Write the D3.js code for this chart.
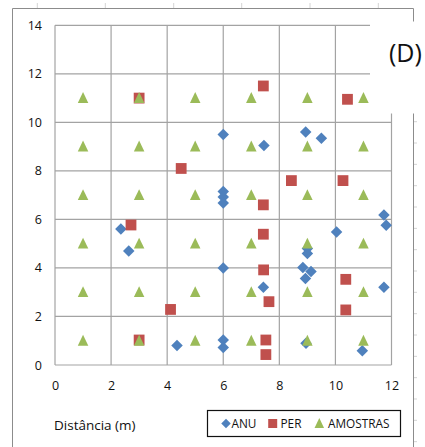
<!DOCTYPE html>
<html>
<head>
<meta charset="utf-8">
<script src="https://cdn.jsdelivr.net/npm/d3@7"></script>
<style>
  html, body { margin: 0; padding: 0; background: #fff; }
  svg { display: block; }
  text { font-family: "Open Sans", "Liberation Sans", sans-serif; fill: #111; }
</style>
</head>
<body>
<svg id="chart" width="425" height="447"></svg>
<script>
// Axis ticks
const xTicks = [0, 2, 4, 6, 8, 10, 12];
const yTicks = [0, 2, 4, 6, 8, 10, 12, 14];

// ANU points (distance x, distance y, in metres)
const anuX = [6.0, 7.45, 8.94, 9.5, 6.0, 6.0, 6.0, 2.35, 2.63, 4.35, 11.73, 11.81, 10.04, 9.0, 9.0, 6.0, 7.43, 8.84, 9.13, 8.93, 11.73, 6.0, 6.0, 8.95, 10.96];
const anuY = [9.5, 9.05, 9.6, 9.35, 7.15, 6.92, 6.68, 5.6, 4.7, 0.8, 6.18, 5.76, 5.48, 4.8, 4.6, 4.0, 3.2, 4.02, 3.85, 3.57, 3.2, 1.03, 0.72, 0.9, 0.59];

// PER points
const perX = [3.0, 4.5, 7.43, 10.43, 8.43, 10.27, 2.71, 4.12, 3.0, 7.43, 7.43, 7.44, 7.63, 10.37, 10.37, 7.52, 7.52];
const perY = [11.0, 8.1, 11.5, 10.95, 7.6, 7.6, 5.77, 2.29, 1.03, 6.6, 5.39, 3.92, 2.61, 3.53, 2.27, 1.03, 0.43];

// AMOSTRAS sampling grid
const amoX = [1, 3, 5, 7, 9, 11, 1, 3, 5, 7, 9, 11, 1, 3, 5, 7, 9, 11, 1, 3, 5, 7, 9, 11, 1, 3, 5, 7, 9, 11, 1, 3, 5, 7, 9, 11];
const amoY = [11, 11, 11, 11, 11, 11, 9, 9, 9, 9, 9, 9, 7, 7, 7, 7, 7, 7, 5, 5, 5, 5, 5, 5, 3, 3, 3, 3, 3, 3, 1, 1, 1, 1, 1, 1];

const seriesNames = ["ANU", "PER", "AMOSTRAS"];
const colors = { ANU: "#4f81bd", PER: "#c0504d", AMOSTRAS: "#9bbb59" };

const svg = d3.select("#chart");

const x = d3.scaleLinear().domain([0, 12]).range([55, 391.5]);
const y = d3.scaleLinear().domain([0, 14]).range([365, 25.3]);

// Faint ticks of a neighbouring chart peeking out at the edges
const edge = svg.append("g").attr("stroke", "#d4d4d4").attr("stroke-width", 1);
[37.3, 105.3, 173.7, 241.7, 310, 378.3].forEach(px => {
  edge.append("line").attr("x1", px).attr("x2", px).attr("y1", 3).attr("y2", 8);
});
d3.range(0, 16).forEach(i => {
  const py = 121.7 + i * 21.33;
  edge.append("line").attr("x1", 413).attr("x2", 417).attr("y1", py).attr("y2", py);
});
edge.append("line").attr("x1", 413).attr("x2", 417).attr("y1", 24).attr("y2", 24);

// Chart frame
const frame = svg.append("g").attr("stroke", "#8c8c8c").attr("stroke-width", 1).attr("fill", "none");
frame.append("path").attr("d", "M12.5,447 V8.5 H413.5 V447");

// Gridlines
const grid = svg.append("g").attr("stroke", "#a3a3a3").attr("stroke-width", 1.2);
yTicks.forEach(t => {
  grid.append("line").attr("x1", x(0)).attr("x2", x(12)).attr("y1", y(t)).attr("y2", y(t));
});
xTicks.forEach(t => {
  grid.append("line").attr("x1", x(t)).attr("x2", x(t)).attr("y1", y(14)).attr("y2", y(0));
});

// Axis tick labels (axes drawn without domain lines)
const yAxis = d3.axisLeft(y).tickValues(yTicks).tickSize(0).tickPadding(0).tickFormat(d3.format("d"));
svg.append("g").attr("transform", "translate(42,0)").call(yAxis)
  .call(g => g.select(".domain").remove())
  .selectAll("text").attr("font-size", 12.5).attr("fill", "#111")
  .attr("font-family", "'Open Sans', sans-serif");

const xAxis = d3.axisBottom(x).tickValues(xTicks).tickSize(0).tickPadding(0).tickFormat(d3.format("d"));
svg.append("g").attr("transform", "translate(0,381)").call(xAxis)
  .call(g => g.select(".domain").remove())
  .selectAll("text").attr("font-size", 12.5).attr("fill", "#111")
  .attr("font-family", "'Open Sans', sans-serif");

// Marker shapes
const triangleType = {
  draw(context, size) {
    const w = Math.sqrt(size);
    const h = w * 1.04;
    context.moveTo(0, -h * 0.55);
    context.lineTo(w / 2, h * 0.45);
    context.lineTo(-w / 2, h * 0.45);
    context.closePath();
  }
};
const diamondType = {
  draw(context, size) {
    const r = Math.sqrt(size) / 2;
    context.moveTo(0, -r);
    context.lineTo(r, 0);
    context.lineTo(0, r);
    context.lineTo(-r, 0);
    context.closePath();
  }
};
const squareType = d3.symbolSquare;

const shapes = { ANU: diamondType, PER: squareType, AMOSTRAS: triangleType };
const plotSizes = { ANU: 11.5 * 11.5, PER: 10.8 * 10.8, AMOSTRAS: 10.5 * 10.5 };
const legendSizes = { ANU: 9.5 * 9.5, PER: 9 * 9, AMOSTRAS: 9.5 * 9.5 };

const series = [
  { name: "ANU", xs: anuX, ys: anuY },
  { name: "PER", xs: perX, ys: perY },
  { name: "AMOSTRAS", xs: amoX, ys: amoY }
];

series.forEach(s => {
  const pts = s.xs.map((v, i) => [v, s.ys[i]]);
  svg.append("g").selectAll("path").data(pts).join("path")
    .attr("transform", d => `translate(${x(d[0])},${y(d[1])})`)
    .attr("d", d3.symbol().type(shapes[s.name]).size(plotSizes[s.name]))
    .attr("fill", colors[s.name]);
});

// Label panel in the top right corner
svg.append("rect").attr("x", 370).attr("y", 21.5).attr("width", 60).attr("height", 92).attr("fill", "#fff");
svg.append("text").attr("x", 389).attr("y", 62).attr("font-size", 25).attr("fill", "#000")
  .attr("font-family", "'Liberation Sans', sans-serif").text("(D)");

// Axis title
svg.append("text").attr("x", 54).attr("y", 430).attr("font-size", 13.5).attr("fill", "#111")
  .text("Distância (m)");

// Legend
const legend = svg.append("g");
legend.append("rect").attr("x", 207.5).attr("y", 410.5).attr("width", 193).attr("height", 26)
  .attr("fill", "#fff").attr("stroke", "#111").attr("stroke-width", 1.2);
const legendItems = [
  { name: "ANU", mx: 226, tx: 231.5 },
  { name: "PER", mx: 272.7, tx: 280.5 },
  { name: "AMOSTRAS", mx: 319.3, tx: 328 }
];
legendItems.forEach(it => {
  legend.append("path")
    .attr("transform", `translate(${it.mx},423.5)`)
    .attr("d", d3.symbol().type(shapes[it.name]).size(legendSizes[it.name]))
    .attr("fill", colors[it.name]);
  legend.append("text").attr("x", it.tx).attr("y", 428).attr("font-size", 11.8).attr("fill", "#111")
    .text(it.name);
});
</script>
</body>
</html>
